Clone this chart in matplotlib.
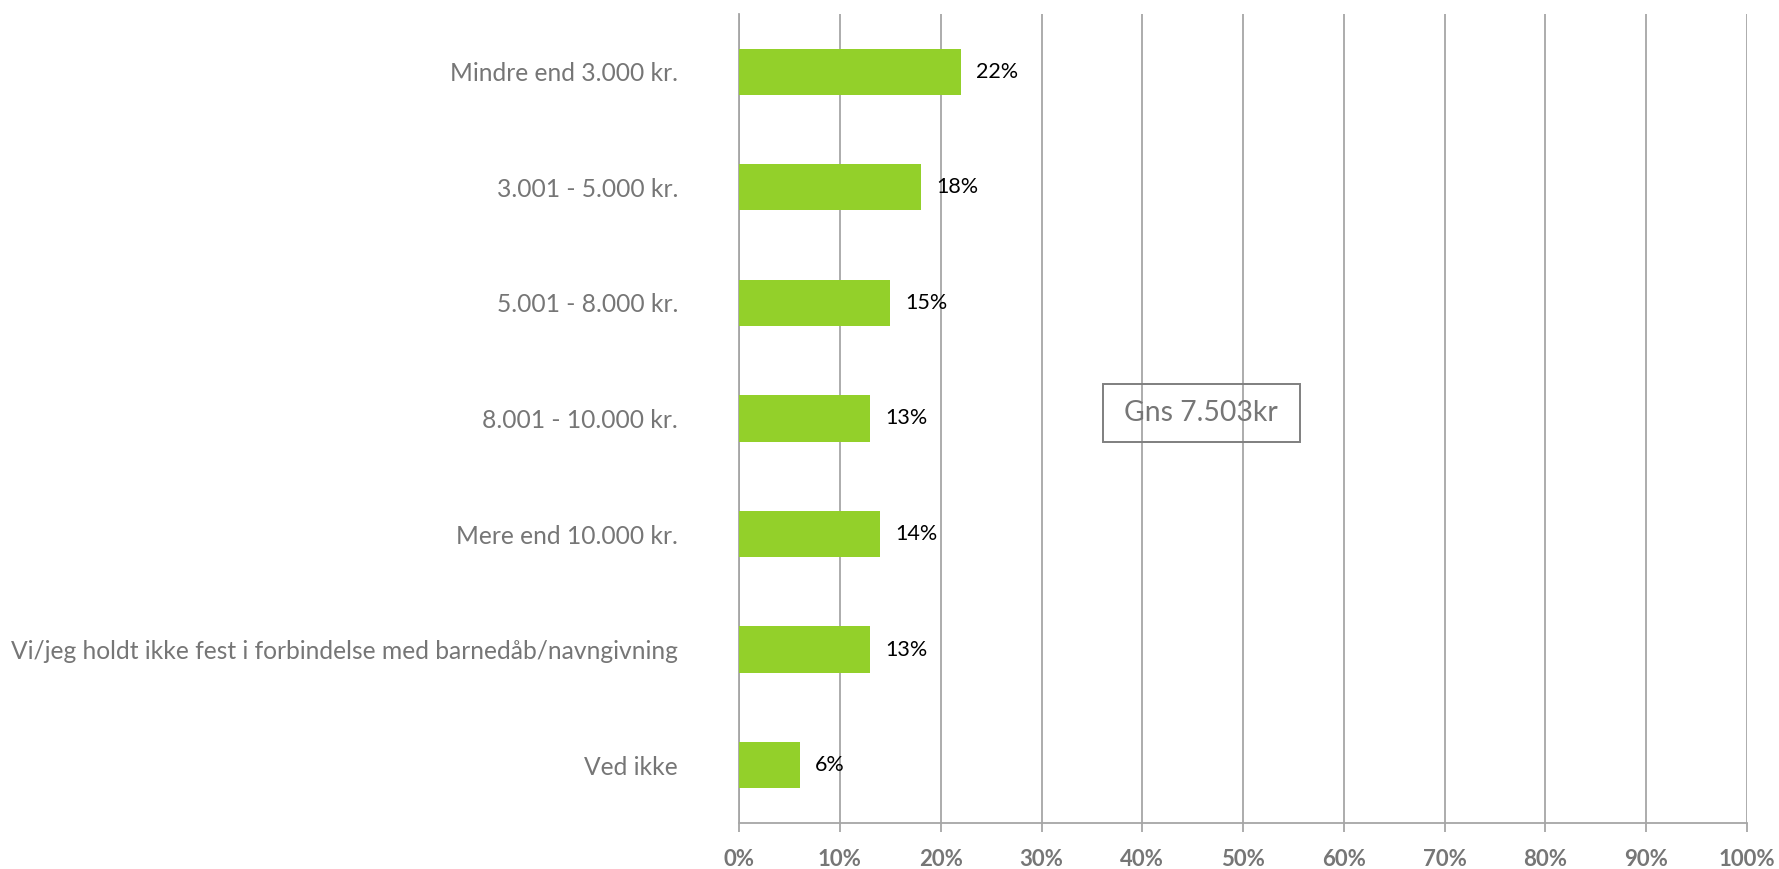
import matplotlib.pyplot as plt
from matplotlib.patches import Rectangle
import numpy as np

plt.rcParams['font.family'] = ['Lato', 'DejaVu Sans']

# kategorier og andele (top til bund)
categories = ['Mindre end 3.000 kr.', '3.001 - 5.000 kr.', '5.001 - 8.000 kr.',
              '8.001 - 10.000 kr.', 'Mere end 10.000 kr.',
              'Vi/jeg holdt ikke fest i forbindelse med barnedåb/navngivning',
              'Ved ikke']
shares = [0.22, 0.18, 0.15, 0.13, 0.14, 0.13, 0.06]
xticks = np.arange(0, 1.01, 0.1)
xticklabels = ['0%', '10%', '20%', '30%', '40%', '50%', '60%', '70%', '80%', '90%', '100%']
note = 'Gns 7.503kr'

grey = '#A6A6A6'
txt = '#767676'

fig = plt.figure(figsize=(17.79, 8.69), dpi=100)
ax = fig.add_axes([0.4155, 0.053, 0.5665, 0.931])

y = np.arange(len(categories))
bars = ax.barh(y, shares, height=0.4, color='#93D02A', zorder=3)
ax.bar_label(bars, labels=['%d%%' % round(v * 100) for v in shares],
             padding=11, fontsize=15.5, color='black')

ax.set_xlim(0, 1)
ax.set_ylim(len(categories) - 0.5, -0.5)
ax.set_xticks(xticks)
ax.set_xticklabels(xticklabels, fontsize=16, fontweight='bold', color=txt)
ax.set_yticks(y)
ax.set_yticklabels(categories, fontsize=17.7, color=txt)

ax.tick_params(axis='y', length=0, pad=44)
ax.tick_params(axis='x', length=6.5, width=1.3, color=grey, pad=12)
ax.grid(axis='x', color=grey, lw=1.3, zorder=0)
for s in ['top', 'right']:
    ax.spines[s].set_visible(False)
for s in ['left', 'bottom']:
    ax.spines[s].set_color(grey)
    ax.spines[s].set_linewidth(1.3)

# boks med gennemsnit
ax.add_patch(Rectangle((0.361, 2.70), 0.195, 0.50, fill=False,
                       ec='#7F7F7F', lw=1.4, zorder=5))
ax.text(0.4585, 2.95, note, fontsize=20.4, color=txt, ha='center', va='center',
        zorder=5)

fig.savefig('out.png', dpi=100)
